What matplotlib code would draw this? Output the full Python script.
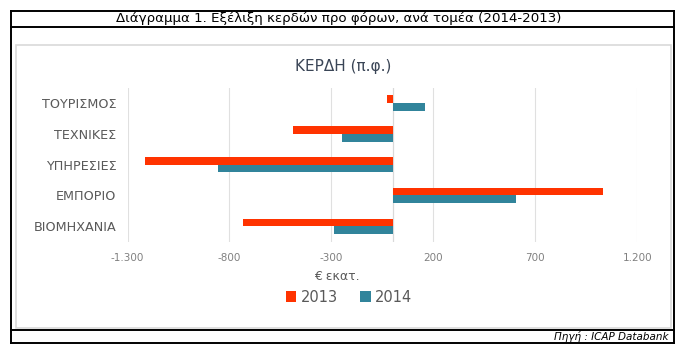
import matplotlib
matplotlib.use("Agg")
import matplotlib.pyplot as plt
from matplotlib.patches import Rectangle
from matplotlib.lines import Line2D
import numpy as np

categories = ["ΒΙΟΜΗΧΑΝΙΑ", "ΕΜΠΟΡΙΟ", "ΥΠΗΡΕΣΙΕΣ", "ΤΕΧΝΙΚΕΣ", "ΤΟΥΡΙΣΜΟΣ"]
series_names = ["2013", "2014"]
values_2013 = [-732, 1030, -1214, -487, -25]
values_2014 = [-287, 604, -855, -248, 157]
tick_values = [-1300, -800, -300, 200, 700, 1200]
tick_labels = ["-1.300", "-800", "-300", "200", "700", "1.200"]

RED = "#FF3300"
TEAL = "#31849B"
W, H = 686, 357

fig = plt.figure(figsize=(W / 100, H / 100), dpi=100)
fig.patch.set_facecolor("white")

def fx(px):
    return px / W

def fy(py):
    return 1 - py / H

def hline(y, x0, x1, color="black", lw=1.4):
    fig.add_artist(Line2D([fx(x0), fx(x1)], [fy(y), fy(y)], color=color, lw=lw, transform=fig.transFigure))

def vline(x, y0, y1, color="black", lw=1.4):
    fig.add_artist(Line2D([fx(x), fx(x)], [fy(y0), fy(y1)], color=color, lw=lw, transform=fig.transFigure))

# chart area (light gray border)
fig.add_artist(Rectangle((fx(15.5), fy(328)), fx(671) - fx(15.5), fy(45) - fy(328),
                         transform=fig.transFigure, fill=False, edgecolor="#d9d9d9", lw=1.2))

hline(10.5, 10.5, 673.5)
hline(27, 10.5, 673.5)
hline(329.5, 10.5, 673.5)
hline(343, 10.5, 673.5)
vline(10.5, 10.5, 343)
vline(673.5, 10.5, 343)

fig.text(fx(339), fy(18.5), "Διάγραμμα 1. Εξέλιξη κερδών προ φόρων, ανά τομέα (2014-2013)",
         ha="center", va="center", fontsize=9.6, color="black", family="DejaVu Sans")
fig.text(fx(669), fy(336.5), "Πηγή : ICAP Databank", ha="right", va="center",
         fontsize=7.5, style="italic", color="black", family="DejaVu Sans")

fig.text(fx(343.5), fy(66), "ΚΕΡΔΗ (π.φ.)", ha="center", va="center",
         fontsize=11, color="#3A4556", family="DejaVu Sans")

# axes
ax = fig.add_axes([fx(127.5), fy(241.6), fx(637.3) - fx(127.5), fy(87.6) - fy(241.6)])
y = np.arange(len(categories))
bh = 0.25
ax.barh(y + bh / 2, values_2013, height=bh, color=RED, label=series_names[0], zorder=3)
ax.barh(y - bh / 2, values_2014, height=bh, color=TEAL, label=series_names[1], zorder=3)

ax.set_xlim(tick_values[0], tick_values[-1])
ax.set_ylim(-0.5, len(categories) - 0.5)
ax.set_xticks(tick_values)
ax.set_xticklabels(tick_labels, fontsize=7.5, color="#808080", family="DejaVu Sans")
ax.set_yticks(y)
ax.set_yticklabels(categories, fontsize=9.2, color="#595959", family="DejaVu Sans")
ax.tick_params(axis="both", length=0)
ax.tick_params(axis="x", pad=8)
ax.tick_params(axis="y", pad=8)
for s in ax.spines.values():
    s.set_visible(False)
ax.grid(axis="x", color="#e0e0e0", lw=0.8, zorder=0)
ax.axvline(0, color="#d9d9d9", lw=0.9, zorder=2)
ax.set_facecolor("none")

fig.text(fx(337), fy(276.5), "€ εκατ.", ha="center", va="center",
         fontsize=9, color="#595959", family="DejaVu Sans")

leg = fig.legend(loc="center", bbox_to_anchor=(fx(349), fy(297)), ncol=2, frameon=False,
                 fontsize=10.5, handlelength=0.75, handleheight=0.75, handletextpad=0.3,
                 columnspacing=1.5)
for t in leg.get_texts():
    t.set_color("#595959")

fig.savefig("out.png", dpi=100, facecolor="white")
